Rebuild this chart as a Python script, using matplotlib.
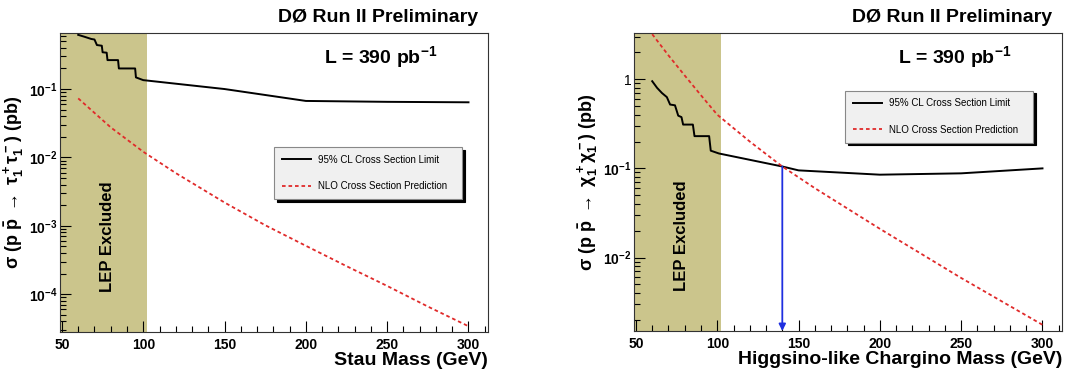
"""D0 Run II preliminary: stau and higgsino-like chargino cross section limits."""
import matplotlib
matplotlib.use("Agg")
import matplotlib.pyplot as plt
from matplotlib.ticker import FixedLocator, MultipleLocator, LogLocator, NullFormatter

plt.rcParams["font.family"] = ["Liberation Sans", "DejaVu Sans"]
plt.rcParams["mathtext.fontset"] = "custom"
plt.rcParams["mathtext.rm"] = "Liberation Sans:bold"
plt.rcParams["mathtext.it"] = "Liberation Sans:bold"
plt.rcParams["mathtext.bf"] = "Liberation Sans:bold"

# ---- stau panel ----
stau_lim_m = [60, 64, 68, 70, 71.5, 74.5, 75, 77.5, 78, 84.5, 85, 95, 95.5, 100, 150, 200, 250, 300]
stau_lim_xs = [0.62, 0.58, 0.54, 0.53, 0.44, 0.43, 0.345, 0.34, 0.265, 0.265, 0.2, 0.2, 0.148,
               0.135, 0.1, 0.067, 0.065, 0.064]
stau_nlo_m = [60, 80, 100, 120, 150, 175, 200, 225, 250, 275, 300]
stau_nlo_xs = [0.073, 0.0275, 0.0121, 0.0059, 0.00219, 0.00102, 5.1e-4, 2.57e-4, 1.32e-4,
               6.6e-5, 3.4e-5]

# ---- chargino panel ----
chi_lim_m = [60, 63, 66, 69, 71, 74, 76, 78, 79, 85, 86, 95, 96, 101, 140, 150, 200, 250, 300]
chi_lim_xs = [0.95, 0.8, 0.7, 0.63, 0.52, 0.51, 0.39, 0.376, 0.31, 0.31, 0.23, 0.23, 0.158,
              0.147, 0.105, 0.095, 0.085, 0.088, 0.1]
chi_nlo_m = [60, 70, 80, 90, 100, 120, 140, 160, 200, 250, 300]
chi_nlo_xs = [3.2, 1.85, 1.1, 0.66, 0.40, 0.20, 0.105, 0.06, 0.021, 0.0059, 0.00176]
chi_excl_mass = 140
chi_excl_xs = 0.105

lep_limit = 102.5
xlim = (48.8, 312)
shade = "#cbc58c"
red = "#e02a2a"

panels = [
    dict(rect=[60 / 1086, 39 / 371, 428 / 1086, 299 / 371],
         lim=(stau_lim_m, stau_lim_xs), nlo=(stau_nlo_m, stau_nlo_xs),
         ylim=(2.8e-5, 0.66), yticks=[1e-4, 1e-3, 1e-2, 1e-1],
         ylabels=[r"$10^{-4}$", r"$10^{-3}$", r"$10^{-2}$", r"$10^{-1}$"],
         ytitle=r"$\sigma$ (p $\bar{\mathrm{p}}$ $\rightarrow$ $\tau_1^+\tau_1^-$) (pb)",
         xtitle="Stau Mass (GeV)",
         leg=(0.5, 0.438, 0.439, 0.187), arrow=False),
    dict(rect=[634 / 1086, 40 / 371, 428 / 1086, 298 / 371],
         lim=(chi_lim_m, chi_lim_xs), nlo=(chi_nlo_m, chi_nlo_xs),
         ylim=(1.5e-3, 3.3), yticks=[1e-2, 1e-1, 1],
         ylabels=[r"$10^{-2}$", r"$10^{-1}$", "1"],
         ytitle=r"$\sigma$ (p $\bar{\mathrm{p}}$ $\rightarrow$ $\chi_1^+\chi_1^-$) (pb)",
         xtitle="Higgsino-like Chargino Mass (GeV)",
         leg=(0.493, 0.624, 0.44, 0.191), arrow=True),
]

fig = plt.figure(figsize=(10.86, 3.71), dpi=100)

for p in panels:
    ax = fig.add_axes(p["rect"])
    ax.set_yscale("log")
    ax.set_xlim(*xlim)
    ax.set_ylim(*p["ylim"])
    ax.axvspan(xlim[0], lep_limit, color=shade, lw=0, zorder=0)
    ax.plot(*p["lim"], color="black", lw=1.4, label="95% CL Cross Section Limit", zorder=3)
    ax.plot(*p["nlo"], color=red, lw=1.3, ls=(0, (2, 1.6)), label="NLO Cross Section Prediction",
            zorder=3)
    if p["arrow"]:
        ax.annotate("", xy=(chi_excl_mass, p["ylim"][0]), xytext=(chi_excl_mass, chi_excl_xs),
                    arrowprops=dict(arrowstyle="-|>", color="#1f2fe0", lw=1.3,
                                    mutation_scale=10, shrinkA=0, shrinkB=0), zorder=4)

    ax.xaxis.set_major_locator(MultipleLocator(50))
    ax.xaxis.set_minor_locator(MultipleLocator(10))
    ax.yaxis.set_major_locator(FixedLocator(p["yticks"]))
    ax.yaxis.set_minor_locator(LogLocator(base=10, subs=range(2, 10), numticks=20))
    ax.yaxis.set_minor_formatter(NullFormatter())
    ax.set_yticklabels(p["ylabels"])
    ax.tick_params(which="both", direction="in", top=False, right=False, width=0.8)
    ax.tick_params(which="major", length=8, labelsize=10)
    ax.tick_params(which="minor", length=4)
    ax.tick_params(axis="x", pad=4)
    ax.tick_params(axis="y", pad=2)
    for lab in ax.get_xticklabels():
        lab.set_fontweight("bold")
    for s in ax.spines.values():
        s.set_linewidth(0.8)
        s.set_color("#333333")

    ax.set_xlabel(p["xtitle"], fontsize=14, fontweight="bold", loc="right", labelpad=0)
    ax.set_ylabel(p["ytitle"], fontsize=13, fontweight="bold", labelpad=2)

    ax.text(0.11, 0.32, "LEP Excluded", transform=ax.transAxes, rotation=90,
            fontsize=12, fontweight="bold", ha="center", va="center")
    ax.text(0.977, 1.025, "D\u00d8 Run II Preliminary", transform=ax.transAxes,
            fontsize=14, fontweight="bold", ha="right", va="bottom")
    ax.text(0.75, 0.92, r"L = 390 pb$^{-1}$", transform=ax.transAxes,
            fontsize=14, fontweight="bold", ha="center", va="center")

    leg = ax.legend(bbox_to_anchor=p["leg"], mode="expand", loc="center", fontsize=7,
                    frameon=True, fancybox=False, shadow={"color": "black", "alpha": 1},
                    facecolor="#f0f0f0", edgecolor="#888888", framealpha=1,
                    handlelength=3.0, handletextpad=0.7, labelspacing=1.7, borderpad=0.8,
                    borderaxespad=0)
    leg.get_frame().set_linewidth(0.8)

fig.savefig("out.png", dpi=100)
